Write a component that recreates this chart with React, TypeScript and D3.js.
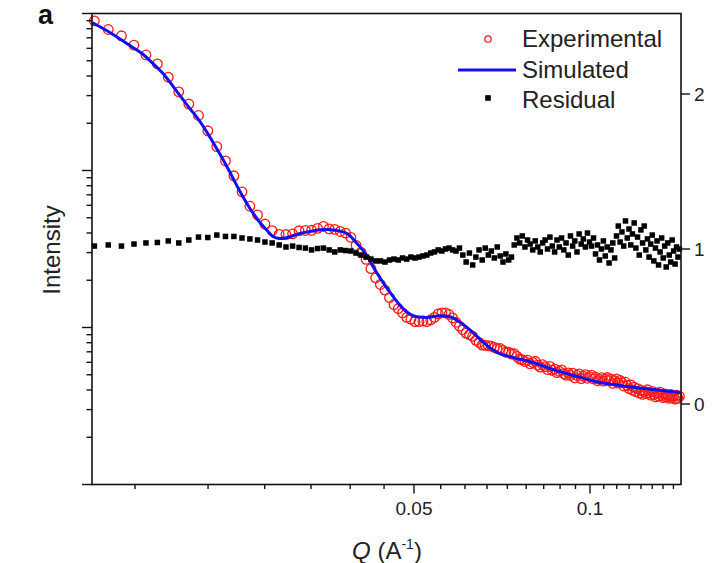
import React from 'react';
import * as d3 from 'd3';

// Experimental SAXS curve (Q in A^-1, intensity in arbitrary units)
const Q_EXP = [0.0142, 0.015, 0.0158, 0.0166, 0.0174, 0.0182, 0.019, 0.0198, 0.0206, 0.0214, 0.0222, 0.023, 0.0238, 0.0246, 0.0254, 0.0262, 0.027, 0.0278, 0.0286, 0.0294, 0.0302, 0.031, 0.0318, 0.0326, 0.0334, 0.0342, 0.035, 0.0358, 0.0366, 0.0374, 0.0382, 0.039, 0.0398, 0.0406, 0.0414, 0.0422, 0.043, 0.0438, 0.0446, 0.0454, 0.0462, 0.047, 0.0478, 0.0486, 0.0494, 0.0502, 0.051, 0.0518, 0.0526, 0.0534, 0.0542, 0.055, 0.0558, 0.0566, 0.0574, 0.0582, 0.059, 0.0598, 0.0606, 0.0614, 0.0622, 0.063, 0.0638, 0.0646, 0.0654, 0.0662, 0.067, 0.0678, 0.0686, 0.0694, 0.0702, 0.071, 0.0718, 0.0726, 0.0734, 0.0742, 0.075, 0.0758, 0.0766, 0.0774, 0.0782, 0.079, 0.0798, 0.0806, 0.0814, 0.0822, 0.083, 0.0838, 0.0846, 0.0854, 0.0862, 0.087, 0.0878, 0.0886, 0.0894, 0.0902, 0.091, 0.0918, 0.0926, 0.0934, 0.0942, 0.095, 0.0958, 0.0966, 0.0974, 0.0982, 0.099, 0.0998, 0.1006, 0.1014, 0.1022, 0.103, 0.1038, 0.1046, 0.1054, 0.1062, 0.107, 0.1078, 0.1086, 0.1094, 0.1102, 0.111, 0.1118, 0.1126, 0.1134, 0.1142, 0.115, 0.1158, 0.1166, 0.1174, 0.1182, 0.119, 0.1198, 0.1206, 0.1214, 0.1222, 0.123, 0.1238, 0.1246, 0.1254, 0.1262, 0.127, 0.1278, 0.1286, 0.1294, 0.1302, 0.131, 0.1318, 0.1326, 0.1334, 0.1342, 0.135, 0.1358, 0.1366, 0.1374, 0.1382, 0.139, 0.1398, 0.1406, 0.1414, 0.1422];

const I_EXP = [
  898, 791, 721, 629, 544, 478, 393, 317, 265, 224,
  179, 142, 115, 92.5, 73.1, 59.2, 52.1, 45.6, 41.4, 39.2,
  39.1, 39.5, 41.3, 41.5, 41.6, 42.8, 44.0, 42.5, 42.2, 40.9,
  39.9, 37.5, 33.3, 30.1, 27.2, 23.7, 20.7, 18.8, 17.3, 15.5,
  14.0, 13.2, 12.4, 11.6, 11.3, 10.9, 10.9, 11.0, 10.9, 11.2,
  11.6, 12.2, 12.4, 12.4, 12.1, 11.5, 10.8, 10.2, 9.70, 9.20,
  9.00, 8.79, 8.28, 8.03, 7.73, 7.69, 7.66, 7.61, 7.47, 7.34,
  7.35, 7.15, 6.96, 6.97, 6.78, 6.80, 6.54, 6.29, 6.23, 6.07,
  6.20, 5.87, 5.99, 6.09, 5.76, 5.60, 5.79, 5.63, 5.39, 5.65,
  5.34, 5.44, 5.16, 5.26, 5.37, 5.09, 4.97, 5.14, 4.95, 5.12,
  4.78, 4.95, 5.06, 4.73, 4.90, 5.01, 4.75, 4.86, 4.97, 4.71,
  4.82, 4.58, 4.67, 4.79, 4.56, 4.69, 4.80, 4.58, 4.69, 4.41,
  4.59, 4.71, 4.42, 4.60, 4.45, 4.24, 4.48, 4.27, 4.08, 4.31,
  3.99, 4.16, 3.91, 4.08, 3.83, 3.99, 3.75, 3.91, 3.79, 4.01,
  3.83, 3.71, 3.92, 3.74, 3.62, 3.83, 3.66, 3.87, 3.69, 3.58,
  3.78, 3.61, 3.71, 3.54, 3.74, 3.58, 3.67, 3.50, 3.71, 3.54,
  3.64
];

// Residual (right axis), same Q grid as the experimental points
const RESIDUAL = [
  1.019, 1.026, 1.019, 1.032, 1.039, 1.042, 1.052, 1.039, 1.058, 1.077,
  1.074, 1.090, 1.081, 1.081, 1.071, 1.065, 1.058, 1.045, 1.039, 1.026,
  1.013, 1.019, 1.010, 1.006, 0.994, 1.003, 1.006, 0.994, 0.981, 0.994,
  0.990, 0.987, 0.974, 0.961, 0.948, 0.935, 0.923, 0.923, 0.916, 0.929,
  0.935, 0.929, 0.942, 0.935, 0.948, 0.942, 0.948, 0.955, 0.961, 0.974,
  0.981, 0.994, 0.987, 1.000, 1.006, 0.994, 0.987, 1.006, 0.961, 0.916,
  0.974, 0.897, 0.948, 0.994, 0.929, 1.006, 0.961, 0.987, 0.942, 1.013,
  0.955, 0.916, 0.968, 0.929, 0.948, 1.026, 1.071, 1.039, 1.084, 1.013,
  1.058, 1.032, 0.994, 1.052, 1.013, 0.981, 1.039, 1.058, 1.000, 1.077,
  1.019, 0.981, 1.058, 1.013, 1.071, 0.994, 1.039, 0.961, 1.084, 1.019,
  1.052, 0.981, 1.097, 1.032, 1.065, 1.013, 1.103, 1.045, 1.019, 1.071,
  0.968, 1.026, 0.929, 1.000, 1.052, 0.955, 1.013, 0.910, 0.994, 1.039,
  0.942, 1.084, 1.148, 1.045, 1.110, 1.019, 1.181, 1.071, 1.129, 1.026,
  1.097, 1.168, 1.006, 1.077, 0.961, 1.123, 1.039, 1.148, 0.994, 1.065,
  0.948, 1.032, 1.090, 0.923, 1.006, 1.052, 0.897, 0.981, 1.071, 0.942,
  1.019, 0.884, 1.039, 0.961, 0.916, 1.058, 0.987, 0.903, 1.013, 0.948,
  1.000
];

// Simulated (fitted) curve
const Q_SIM = [0.01407, 0.0151, 0.01634, 0.01713, 0.01782, 0.01861, 0.0199, 0.02069, 0.02153, 0.02213, 0.02284, 0.02357, 0.02423, 0.0252, 0.02621, 0.02726, 0.02814, 0.02869, 0.02949, 0.03032, 0.03191, 0.0332, 0.03494, 0.03692, 0.03841, 0.03995, 0.04155, 0.04254, 0.04425, 0.04603, 0.04788, 0.0498, 0.05263, 0.0554, 0.05762, 0.05994, 0.06307, 0.06484, 0.06934, 0.07383, 0.07988, 0.08642, 0.095, 0.10402, 0.11567, 0.12815, 0.14251];
const I_SIM = [876, 757, 625, 556, 487, 415, 300, 248, 205, 175, 144, 117.5, 97.1, 73.5, 57.3, 46.6, 40.9, 38.0, 36.9, 37.4, 39.7, 40.9, 42.1, 41.5, 39.7, 34.3, 28.7, 24.5, 19.4, 15.8, 13.2, 11.9, 11.6, 11.9, 11.7, 10.8, 9.29, 8.39, 6.93, 6.44, 5.98, 5.40, 4.88, 4.46, 4.21, 4.03, 3.85];

const X_LABELED_TICKS = [0.05, 0.1];
const X_TICK_LABELS = ['0.05', '0.1'];
const X_MINOR_TICKS = d3.range(3, 26).filter((k) => k !== 9 && k !== 18).map((k) => (k * 0.05) / 9);
const YL_MAJOR_TICKS = [1, 10, 100, 1000];
const YL_MINOR_TICKS = [1, 10, 100].flatMap((d) => d3.range(2, 10).map((m) => m * d));
const YR_TICKS = [0, 1, 2];

const LEGEND = ['Experimental', 'Simulated', 'Residual'];

const FONT = 'Liberation Sans, Arial, Helvetica, sans-serif';
const RED = '#ff1a1a';
const BLUE = '#1010f0';

export default function App() {
  const left = 92, right = 681, top = 13.5, bottom = 484.5;
  const x = d3.scaleLog().domain([0.01407, 0.1431]).range([left, right]);
  const yL = d3.scaleLog().domain([1, 1000]).range([bottom, top]);
  const yR = d3.scaleLinear().domain([0, 2]).range([404, 94]);

  const line = d3
    .line<number>()
    .x((_, i) => x(Q_SIM[i]))
    .y((d) => yL(d))
    .curve(d3.curveCatmullRom.alpha(0.5));

  const sq = 5.5;

  return (
    <svg
      width={712}
      height={563}
      style={{ position: 'absolute', left: 0, top: 0, background: '#fff' }}
      fontFamily={FONT}
    >
      <rect x={0} y={0} width={712} height={563} fill="#fff" />

      {/* experimental circles */}
      <g fill="none" stroke={RED} strokeWidth={1.3}>
        {I_EXP.map((v, i) => (
          <circle key={i} cx={x(Q_EXP[i])} cy={yL(v)} r={4.8} />
        ))}
      </g>

      {/* simulated line */}
      <path d={line(I_SIM) || ''} fill="none" stroke={BLUE} strokeWidth={3} />

      {/* residual squares */}
      <g fill="#000">
        {RESIDUAL.map((v, i) => (
          <rect key={i} x={x(Q_EXP[i]) - sq / 2} y={yR(v) - sq / 2} width={sq} height={sq} />
        ))}
      </g>

      {/* frame */}
      <rect x={left} y={top} width={right - left} height={bottom - top} fill="none" stroke="#111" strokeWidth={1.6} />

      {/* bottom axis ticks */}
      <g stroke="#111" strokeWidth={1.4}>
        {X_MINOR_TICKS.map((t, i) => (
          <line key={'xm' + i} x1={x(t)} x2={x(t)} y1={bottom} y2={bottom + 4.5} />
        ))}
        {X_LABELED_TICKS.map((t, i) => (
          <line key={'xM' + i} x1={x(t)} x2={x(t)} y1={bottom} y2={bottom + 9} />
        ))}
      </g>
      <g fontSize={19} fill="#222" textAnchor="middle">
        {X_LABELED_TICKS.map((t, i) => (
          <text key={i} x={x(t)} y={515}>
            {X_TICK_LABELS[i]}
          </text>
        ))}
      </g>

      {/* left axis ticks */}
      <g stroke="#111" strokeWidth={1.4}>
        {YL_MINOR_TICKS.map((t, i) => (
          <line key={'ym' + i} x1={left - 5.5} x2={left} y1={yL(t)} y2={yL(t)} />
        ))}
        {YL_MAJOR_TICKS.map((t, i) => (
          <line key={'yM' + i} x1={left - 10} x2={left} y1={yL(t)} y2={yL(t)} />
        ))}
      </g>

      {/* right axis ticks */}
      <g stroke="#111" strokeWidth={1.4}>
        {YR_TICKS.map((t, i) => (
          <line key={'yr' + i} x1={right} x2={right + 9} y1={yR(t)} y2={yR(t)} />
        ))}
      </g>
      <g fontSize={19} fill="#222">
        {YR_TICKS.map((t, i) => (
          <text key={i} x={694} y={yR(t) + 7}>
            {String(t)}
          </text>
        ))}
      </g>

      {/* axis titles */}
      <text x={0} y={0} fontSize={24} fill="#222" textAnchor="middle" transform="translate(60,250) rotate(-90)">
        Intensity
      </text>
      <text x={387} y={559} fontSize={24} fill="#222" textAnchor="middle">
        <tspan fontStyle="italic">Q</tspan>
        <tspan> (A</tspan>
        <tspan fontSize={14} dy={-10}>-1</tspan>
        <tspan dy={10}>)</tspan>
      </text>

      {/* panel label */}
      <text x={38} y={24} fontSize={27} fontWeight="bold" fill="#111">
        a
      </text>

      {/* legend */}
      <circle cx={488} cy={39} r={3.2} fill="none" stroke={RED} strokeWidth={1.3} />
      <line x1={458} x2={516} y1={70} y2={70} stroke={BLUE} strokeWidth={3} />
      <rect x={488 - 2.8} y={98 - 2.8} width={5.6} height={5.6} fill="#000" />
      <g fontSize={24} fill="#222">
        <text x={522} y={47}>{LEGEND[0]}</text>
        <text x={522} y={78}>{LEGEND[1]}</text>
        <text x={522} y={108}>{LEGEND[2]}</text>
      </g>
    </svg>
  );
}
